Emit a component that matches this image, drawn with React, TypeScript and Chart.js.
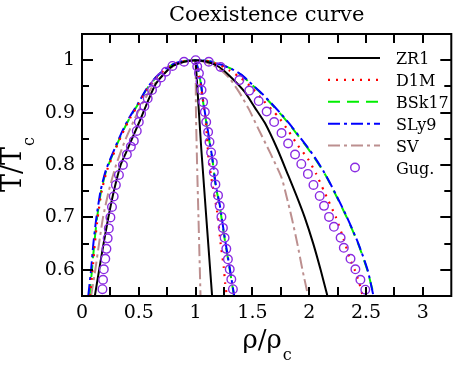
import React, { useEffect, useRef } from "react";
import { Chart, registerables } from "chart.js";
Chart.register(...registerables);

// ---------- axes ----------
const TITLE = "Coexistence curve";
const X_MIN = 0;
const X_MAX = 3.25;
const Y_MIN = 0.55;
const Y_MAX = 1.05;
const X_TICKS = [0, 0.5, 1, 1.5, 2, 2.5, 3];
const X_MINOR = [0.25, 0.5, 0.75, 1, 1.25, 1.5, 1.75, 2, 2.25, 2.5, 2.75, 3];
const Y_TICKS = [0.6, 0.7, 0.8, 0.9, 1];
const Y_MINOR = [0.65, 0.75, 0.85, 0.95];

// ---------- ZR1 ----------
const ZR1_L_RHO = [0.113, 0.151, 0.19, 0.232, 0.28, 0.34, 0.39, 0.45, 0.52, 0.58, 0.65, 0.74, 0.8, 0.9, 1.0];
const ZR1_L_T = [0.55, 0.6, 0.65, 0.7, 0.75, 0.8, 0.825, 0.855, 0.89, 0.922, 0.955, 0.978, 0.989, 0.997, 1.0];
const ZR1_R_RHO = [1.0, 1.1, 1.2, 1.3, 1.43, 1.52, 1.61, 1.72, 1.815, 1.89, 1.96, 2.035, 2.1, 2.16];
const ZR1_R_T = [1.0, 0.997, 0.988, 0.97, 0.94, 0.91, 0.88, 0.83, 0.78, 0.74, 0.7, 0.65, 0.6, 0.55];
const ZR1_D_RHO = [1.0, 1.05, 1.145];
const ZR1_D_T = [1.0, 0.83, 0.55];

// ---------- D1M ----------
const D1M_L_RHO = [0.07, 0.093, 0.113, 0.138, 0.173, 0.22, 0.295, 0.355, 0.425, 0.495, 0.575, 0.655, 0.725, 0.805, 0.885, 1.0];
const D1M_L_T = [0.55, 0.6, 0.65, 0.7, 0.75, 0.79, 0.83, 0.86, 0.89, 0.915, 0.945, 0.967, 0.981, 0.992, 0.998, 1.0];
const D1M_R_RHO = [1.0, 1.12, 1.22, 1.3, 1.4, 1.5, 1.6, 1.727, 1.814, 1.901, 1.988, 2.061, 2.13, 2.235, 2.3, 2.36, 2.4, 2.44, 2.47];
const D1M_R_T = [1.0, 0.998, 0.99, 0.98, 0.966, 0.946, 0.922, 0.892, 0.866, 0.837, 0.812, 0.783, 0.75, 0.7, 0.66, 0.62, 0.6, 0.575, 0.55];
const D1M_D_RHO = [1.0, 1.03, 1.06, 1.09, 1.115, 1.15, 1.19, 1.22, 1.247, 1.26, 1.275];
const D1M_D_T = [1.0, 0.97, 0.93, 0.88, 0.81, 0.76, 0.71, 0.65, 0.606, 0.574, 0.55];

// ---------- BSk17 ----------
const BSK_L_RHO = [0.065, 0.088, 0.108, 0.133, 0.168, 0.215, 0.29, 0.35, 0.42, 0.49, 0.57, 0.65, 0.72, 0.8, 0.88, 1.0];
const BSK_L_T = [0.55, 0.6, 0.65, 0.7, 0.75, 0.79, 0.83, 0.86, 0.89, 0.915, 0.945, 0.967, 0.981, 0.992, 0.998, 1.0];
const BSK_R_RHO = [1.0, 1.12, 1.23, 1.32, 1.4, 1.49, 1.58, 1.665, 1.745, 1.82, 1.895, 1.97, 2.045, 2.12, 2.17, 2.24, 2.33, 2.43, 2.51, 2.57];
const BSK_R_T = [1.0, 0.998, 0.991, 0.983, 0.972, 0.954, 0.936, 0.917, 0.898, 0.879, 0.858, 0.837, 0.814, 0.789, 0.77, 0.74, 0.7, 0.65, 0.6, 0.55];
const BSK_D_RHO = [1.0, 1.014, 1.043, 1.066, 1.093, 1.122, 1.151, 1.174, 1.212, 1.24, 1.27, 1.3, 1.328, 1.337];
const BSK_D_T = [1.0, 0.988, 0.959, 0.92, 0.882, 0.844, 0.805, 0.763, 0.722, 0.68, 0.64, 0.601, 0.563, 0.55];

// ---------- SLy9 ----------
const SLY_L_RHO = [0.055, 0.08, 0.1, 0.127, 0.163, 0.21, 0.285, 0.345, 0.415, 0.487, 0.567, 0.648, 0.72, 0.8, 0.88, 1.0];
const SLY_L_T = [0.55, 0.6, 0.65, 0.7, 0.75, 0.79, 0.83, 0.86, 0.89, 0.915, 0.945, 0.967, 0.981, 0.992, 0.998, 1.0];
const SLY_R_RHO = [1.0, 1.12, 1.23, 1.32, 1.405, 1.495, 1.585, 1.67, 1.75, 1.825, 1.9, 1.975, 2.05, 2.123, 2.172, 2.243, 2.333, 2.432, 2.513, 2.565];
const SLY_R_T = [1.0, 0.998, 0.991, 0.983, 0.972, 0.954, 0.936, 0.917, 0.898, 0.879, 0.858, 0.837, 0.814, 0.789, 0.77, 0.74, 0.7, 0.65, 0.6, 0.55];
const SLY_D_RHO = [1.0, 1.016, 1.045, 1.068, 1.095, 1.124, 1.152, 1.177, 1.214, 1.243, 1.272, 1.302, 1.33, 1.34];
const SLY_D_T = [1.0, 0.988, 0.959, 0.92, 0.882, 0.844, 0.805, 0.763, 0.722, 0.68, 0.64, 0.601, 0.563, 0.55];

// ---------- SV ----------
const SV_L_RHO = [0.08, 0.117, 0.15, 0.185, 0.235, 0.3, 0.385, 0.49, 0.62, 0.75, 0.85, 1.0];
const SV_L_T = [0.55, 0.6, 0.65, 0.7, 0.75, 0.8, 0.85, 0.9, 0.95, 0.98, 0.995, 1.0];
const SV_R_RHO = [1.0, 1.1, 1.2, 1.3, 1.38, 1.465, 1.552, 1.654, 1.756, 1.8, 1.845, 1.895, 1.94, 1.99];
const SV_R_T = [1.0, 0.995, 0.985, 0.965, 0.94, 0.908, 0.869, 0.824, 0.776, 0.74, 0.7, 0.65, 0.6, 0.55];
const SV_D_RHO = [1.0, 1.003, 1.014, 1.025, 1.043];
const SV_D_T = [1.0, 0.9, 0.79, 0.7, 0.55];

// ---------- Gug. (symbols) ----------
const GUG_L_RHO = [0.18, 0.185, 0.192, 0.205, 0.215, 0.226, 0.236, 0.25, 0.264, 0.279, 0.298, 0.325, 0.36, 0.395, 0.43, 0.456, 0.482, 0.5, 0.52, 0.549, 0.578, 0.616, 0.651, 0.695, 0.738, 0.796, 0.898];
const GUG_L_T = [0.563, 0.581, 0.601, 0.621, 0.64, 0.66, 0.679, 0.7, 0.72, 0.74, 0.762, 0.781, 0.8, 0.82, 0.835, 0.846, 0.865, 0.882, 0.898, 0.912, 0.927, 0.943, 0.956, 0.967, 0.978, 0.989, 0.997];
const GUG_R_RHO = [1.0, 1.116, 1.22, 1.385, 1.472, 1.555, 1.625, 1.691, 1.756, 1.814, 1.875, 1.93, 1.988, 2.037, 2.092, 2.13, 2.174, 2.217, 2.276, 2.304, 2.363, 2.406, 2.45, 2.493];
const GUG_R_T = [1.0, 0.997, 0.987, 0.962, 0.942, 0.922, 0.902, 0.882, 0.861, 0.841, 0.82, 0.802, 0.783, 0.762, 0.741, 0.722, 0.701, 0.682, 0.661, 0.642, 0.621, 0.601, 0.581, 0.562];
const GUG_D_RHO = [1.014, 1.029, 1.043, 1.052, 1.066, 1.081, 1.093, 1.11, 1.122, 1.136, 1.151, 1.16, 1.174, 1.197, 1.212, 1.227, 1.24, 1.255, 1.27, 1.284, 1.3, 1.314, 1.328];
const GUG_D_T = [0.988, 0.975, 0.959, 0.943, 0.92, 0.901, 0.882, 0.863, 0.844, 0.824, 0.805, 0.786, 0.763, 0.742, 0.722, 0.701, 0.68, 0.661, 0.64, 0.62, 0.601, 0.582, 0.563];

const LEGEND_LABELS = ["ZR1", "D1M", "BSk17", "SLy9", "SV", "Gug."];

const SERIF = "DejaVu Serif";

const pts = (rho: number[], t: number[]) => rho.map((r, i) => ({ x: r, y: t[i] }));
const dome = (lr: number[], lt: number[], rr: number[], rt: number[]) => [
  ...pts(lr, lt),
  ...pts(rr, rt).slice(1),
];

type Sty = { color: string; dash: number[]; width: number };
const S_ZR1: Sty = { color: "#000000", dash: [], width: 2 };
const S_D1M: Sty = { color: "#ff0000", dash: [2, 6], width: 2.2 };
const S_BSK: Sty = { color: "#00ee00", dash: [12, 7], width: 2 };
const S_SLY: Sty = { color: "#0000ff", dash: [12, 4, 3, 4], width: 2 };
const S_SV: Sty = { color: "#bc8f8f", dash: [12, 4, 3, 4], width: 2 };
const GUG_COLOR = "#8a2be2";
const LEG_STYLES: (Sty | null)[] = [S_ZR1, S_D1M, S_BSK, S_SLY, S_SV, null];

const lineDs = (label: string, data: { x: number; y: number }[], s: Sty) => ({
  label,
  data,
  showLine: true,
  borderColor: s.color,
  backgroundColor: s.color,
  borderWidth: s.width,
  borderDash: s.dash,
  pointRadius: 0,
  tension: 0.2,
  fill: false,
});

const framePlugin = {
  id: "frameTicks",
  afterDatasetsDraw(chart: any) {
    const { ctx, chartArea: a, scales } = chart;
    const xs = scales.x;
    const ys = scales.y;
    ctx.save();
    ctx.strokeStyle = "#000";
    ctx.lineWidth = 2;
    ctx.setLineDash([]);
    ctx.strokeRect(a.left, a.top, a.right - a.left, a.bottom - a.top);
    ctx.beginPath();
    for (const v of X_MINOR) {
      const px = Math.round(xs.getPixelForValue(v));
      ctx.moveTo(px, a.bottom);
      ctx.lineTo(px, a.bottom - 9);
      ctx.moveTo(px, a.top);
      ctx.lineTo(px, a.top + 9);
    }
    for (const v of Y_TICKS) {
      const py = Math.round(ys.getPixelForValue(v));
      ctx.moveTo(a.left, py);
      ctx.lineTo(a.left + 11, py);
      ctx.moveTo(a.right, py);
      ctx.lineTo(a.right - 11, py);
    }
    for (const v of Y_MINOR) {
      const py = Math.round(ys.getPixelForValue(v));
      ctx.moveTo(a.left, py);
      ctx.lineTo(a.left + 7, py);
      ctx.moveTo(a.right, py);
      ctx.lineTo(a.right - 7, py);
    }
    ctx.stroke();
    ctx.restore();
  },
  afterDraw(chart: any) {
    const { ctx, chartArea: a } = chart;
    ctx.save();
    ctx.fillStyle = "#000";
    // title
    ctx.font = `21px ${SERIF}`;
    ctx.textAlign = "center";
    ctx.textBaseline = "alphabetic";
    ctx.fillText(TITLE, (a.left + a.right) / 2, 21);

    // x axis title: rho/rho_c
    ctx.textAlign = "left";
    ctx.font = `26px ${SERIF}`;
    const xt = "ρ/ρ";
    const xw = ctx.measureText(xt).width;
    const xx = (a.left + a.right) / 2 - (xw + 9) / 2;
    ctx.fillText(xt, xx, 348);
    ctx.font = `16px ${SERIF}`;
    ctx.fillText("c", xx + xw + 1, 360);

    // y axis title: T/T_c
    ctx.save();
    ctx.translate(21, 192);
    ctx.rotate(-Math.PI / 2);
    ctx.font = `27px ${SERIF}`;
    const yt = "T/T";
    const yw = ctx.measureText(yt).width;
    ctx.fillText(yt, 0, 0);
    ctx.font = `16px ${SERIF}`;
    ctx.fillText("c", yw + 1, 13);
    ctx.restore();

    // legend
    const x0 = 328;
    const x1 = 380;
    const tx = 396;
    ctx.font = `16px ${SERIF}`;
    LEGEND_LABELS.forEach((lab, i) => {
      const y = 58 + i * 21.9;
      const s = LEG_STYLES[i];
      if (s) {
        ctx.beginPath();
        ctx.strokeStyle = s.color;
        ctx.lineWidth = s.width;
        ctx.setLineDash(s.dash);
        ctx.moveTo(x0, y);
        ctx.lineTo(x1, y);
        ctx.stroke();
      } else {
        ctx.beginPath();
        ctx.setLineDash([]);
        ctx.strokeStyle = GUG_COLOR;
        ctx.lineWidth = 1.4;
        ctx.arc((x0 + x1) / 2 + 1, y, 4.3, 0, Math.PI * 2);
        ctx.stroke();
      }
      ctx.fillStyle = "#000";
      ctx.fillText(lab, tx, y + 6);
    });
    ctx.restore();
  },
};

export default function App() {
  const ref = useRef<HTMLCanvasElement | null>(null);
  useEffect(() => {
    document.body.style.margin = "0";
    const canvas = ref.current;
    if (!canvas) return;
    const gug = [
      ...pts(GUG_L_RHO, GUG_L_T),
      ...pts(GUG_R_RHO, GUG_R_T),
      ...pts(GUG_D_RHO, GUG_D_T),
    ];
    const chart = new Chart(canvas, {
      type: "scatter",
      data: {
        datasets: [
          {
            label: "Gug.",
            data: gug,
            showLine: false,
            pointRadius: 4.3,
            pointBorderWidth: 1.4,
            pointBorderColor: GUG_COLOR,
            pointBackgroundColor: "rgba(0,0,0,0)",
            pointStyle: "circle",
          } as any,
          lineDs("ZR1", dome(ZR1_L_RHO, ZR1_L_T, ZR1_R_RHO, ZR1_R_T), S_ZR1),
          lineDs("ZR1 d", pts(ZR1_D_RHO, ZR1_D_T), S_ZR1),
          lineDs("D1M", dome(D1M_L_RHO, D1M_L_T, D1M_R_RHO, D1M_R_T), S_D1M),
          lineDs("D1M d", pts(D1M_D_RHO, D1M_D_T), S_D1M),
          lineDs("SLy9", dome(SLY_L_RHO, SLY_L_T, SLY_R_RHO, SLY_R_T), S_SLY),
          lineDs("SLy9 d", pts(SLY_D_RHO, SLY_D_T), S_SLY),
          lineDs("BSk17", dome(BSK_L_RHO, BSK_L_T, BSK_R_RHO, BSK_R_T), S_BSK),
          lineDs("BSk17 d", pts(BSK_D_RHO, BSK_D_T), S_BSK),
          lineDs("SV", dome(SV_L_RHO, SV_L_T, SV_R_RHO, SV_R_T), S_SV),
          lineDs("SV d", pts(SV_D_RHO, SV_D_T), S_SV),
        ] as any,
      },
      options: {
        animation: false,
        responsive: false,
        devicePixelRatio: 1,
        layout: { padding: { top: 34, right: 1, left: 0, bottom: 0 } },
        plugins: {
          legend: { display: false },
          title: { display: false },
          tooltip: { enabled: false },
        },
        scales: {
          x: {
            type: "linear",
            min: X_MIN,
            max: X_MAX,
            grid: { display: false, drawTicks: false },
            border: { display: false },
            afterBuildTicks: (s: any) => {
              s.ticks = X_TICKS.map((v) => ({ value: v }));
            },
            afterFit: (s: any) => {
              s.height = 69;
            },
            ticks: {
              padding: 6,
              autoSkip: false,
              maxRotation: 0,
              color: "#000",
              font: { family: SERIF, size: 19 },
              callback: (v: any) => String(v),
            },
          },
          y: {
            type: "linear",
            min: Y_MIN,
            max: Y_MAX,
            grid: { display: false, drawTicks: false },
            border: { display: false },
            afterBuildTicks: (s: any) => {
              s.ticks = Y_TICKS.map((v) => ({ value: v }));
            },
            afterFit: (s: any) => {
              s.width = 82;
            },
            ticks: {
              padding: 7,
              autoSkip: false,
              color: "#000",
              font: { family: SERIF, size: 19 },
              callback: (v: any) => String(v),
            },
          },
        },
      } as any,
      plugins: [framePlugin],
    });
    return () => chart.destroy();
  }, []);
  return (
    <canvas
      ref={ref}
      width={457}
      height={365}
      style={{ display: "block", width: 457, height: 365 }}
    />
  );
}
